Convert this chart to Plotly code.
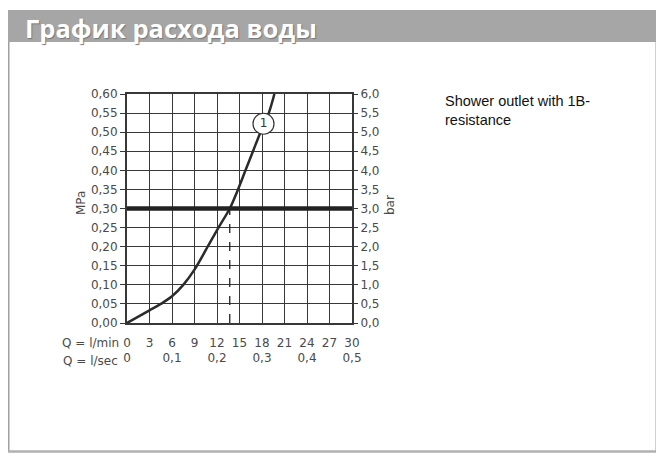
import plotly.graph_objects as go

# ---- data ----
flow_lpm = [0, 3, 4.5, 6, 7.5, 9, 10.7, 12.2, 13.7, 14.8, 15.8, 16.8, 17.8, 18.9, 19.65]
pressure_mpa = [0, 0.033, 0.050, 0.070, 0.100, 0.140, 0.198, 0.250, 0.300, 0.350, 0.400, 0.450, 0.500, 0.550, 0.600]

x_lpm_ticks = [0, 3, 6, 9, 12, 15, 18, 21, 24, 27, 30]
x_lpm_text = ["0", "3", "6", "9", "12", "15", "18", "21", "24", "27", "30"]
x_lps_ticks = [0, 0.1, 0.2, 0.3, 0.4, 0.5]
x_lps_text = ["0", "0,1", "0,2", "0,3", "0,4", "0,5"]
y_mpa_ticks = [0, 0.05, 0.10, 0.15, 0.20, 0.25, 0.30, 0.35, 0.40, 0.45, 0.50, 0.55, 0.60]
y_mpa_text = ["0,00", "0,05", "0,10", "0,15", "0,20", "0,25", "0,30", "0,35", "0,40", "0,45", "0,50", "0,55", "0,60"]
y_bar_ticks = [0, 0.5, 1, 1.5, 2, 2.5, 3, 3.5, 4, 4.5, 5, 5.5, 6]
y_bar_text = ["0,0", "0,5", "1,0", "1,5", "2,0", "2,5", "3,0", "3,5", "4,0", "4,5", "5,0", "5,5", "6,0"]

threshold_bar = 3.0
threshold_lps = [0, 0.5]
operating_flow = 13.7
operating_pressure = 0.30
curve_label = "1"
curve_label_pos = (18.2, 0.522)

title_text = "График расхода воды"
note_text = "Shower outlet with 1B-<br>resistance"

# ---- layout helpers: page pixel -> figure paper (page body has an 8px margin) ----
OFF = 8
W, H = 664 - OFF, 462 - OFF

def px(x):
    return (x - OFF) / W

def py(y):
    return 1 - (y - OFF) / H

L, R, T, B = 127, 352, 94, 323
GRID = "#383838"
TXT = "#4a4a4a"
TF = dict(family="DejaVu Sans", size=12, color=TXT)

fig = go.Figure()

fig.add_trace(go.Scatter(
    x=flow_lpm, y=pressure_mpa, mode="lines",
    line=dict(color="#2b2b2b", width=2.5, shape="spline", smoothing=1.0),
    hoverinfo="skip", showlegend=False))

fig.add_trace(go.Scatter(
    x=threshold_lps, y=[threshold_bar, threshold_bar], xaxis="x2", yaxis="y2",
    mode="lines", line=dict(color="#222222", width=4.5),
    hoverinfo="skip", showlegend=False))

fig.add_trace(go.Scatter(
    x=[operating_flow, operating_flow], y=[0, operating_pressure], mode="lines",
    line=dict(color="#222222", width=1.3, dash="dash"),
    hoverinfo="skip", showlegend=False))

fig.add_trace(go.Scatter(
    x=[curve_label_pos[0]], y=[curve_label_pos[1]], mode="markers+text",
    text=[curve_label], textposition="middle center",
    textfont=dict(family="DejaVu Sans", size=12, color="#333333"),
    marker=dict(size=21, color="white", line=dict(color="#333333", width=1.2)),
    cliponaxis=False, hoverinfo="skip", showlegend=False))

xdom = [px(L), px(R)]
ydom = [py(B), py(T)]

fig.update_layout(
    width=W, height=H,
    margin=dict(l=0, r=0, t=0, b=0, pad=0, autoexpand=False),
    paper_bgcolor="white", plot_bgcolor="white",
    xaxis=dict(domain=xdom, range=[0, 30], tickvals=x_lpm_ticks, ticktext=x_lpm_text,
               showgrid=True, gridcolor=GRID, gridwidth=1.3, zeroline=False,
               showline=True, linecolor=GRID, linewidth=2, mirror=True, automargin=False,
               ticks="", tickfont=TF, ticklabelstandoff=8, anchor="y"),
    xaxis2=dict(domain=xdom, range=[0, 0.5], overlaying="x", side="bottom", anchor="y",
                tickvals=x_lps_ticks, ticktext=x_lps_text, showgrid=False, zeroline=False,
                showline=False, ticks="", tickfont=TF, ticklabelstandoff=26, automargin=False),
    yaxis=dict(domain=ydom, range=[0, 0.6], tickvals=y_mpa_ticks, ticktext=y_mpa_text,
               showgrid=True, gridcolor=GRID, gridwidth=1.3, zeroline=False,
               showline=True, linecolor=GRID, linewidth=2, mirror=True, automargin=False,
               ticks="outside", ticklen=5, tickcolor=GRID, tickwidth=1.2, tickfont=TF,
               anchor="x"),
    yaxis2=dict(domain=ydom, range=[0, 6], overlaying="y", side="right", anchor="x",
                tickvals=y_bar_ticks, ticktext=y_bar_text, showgrid=False, zeroline=False,
                automargin=False,
                ticks="outside", ticklen=5, tickcolor=GRID, tickwidth=1.2, tickfont=TF),
    shapes=[
        dict(type="rect", xref="paper", yref="paper", x0=px(8), x1=px(658), y0=py(42), y1=py(10),
             fillcolor="#a6a6a6", line=dict(width=0), layer="below"),
        dict(type="line", xref="paper", yref="paper", x0=px(8.5), x1=px(8.5), y0=py(42), y1=py(452),
             line=dict(color="#a0a0a0", width=2)),
        dict(type="line", xref="paper", yref="paper", x0=px(656.5), x1=px(656.5), y0=py(42), y1=py(452),
             line=dict(color="#a0a0a0", width=2)),
        dict(type="line", xref="paper", yref="paper", x0=px(8), x1=px(658), y0=py(451.5), y1=py(451.5),
             line=dict(color="#b0b0b0", width=2.5)),
    ],
    annotations=[
        dict(text=title_text, xref="paper", yref="paper", x=px(23), y=py(28),
             xanchor="left", yanchor="middle", showarrow=False,
             font=dict(family="Open Sans", size=25.5, color="white", weight="bold",
                       shadow="1px 1px 1px #777")),
        dict(text=note_text, xref="paper", yref="paper", x=px(443), y=py(91),
             xanchor="left", yanchor="top", showarrow=False, align="left",
             font=dict(family="Liberation Sans", size=14.5, color="#111111")),
        dict(text="MPa", xref="paper", yref="paper", x=px(81), y=py(203), textangle=-90,
             xanchor="center", yanchor="middle", showarrow=False, font=TF),
        dict(text="bar", xref="paper", yref="paper", x=px(390), y=py(205), textangle=-90,
             xanchor="center", yanchor="middle", showarrow=False, font=TF),
        dict(text="Q = l/min", xref="paper", yref="paper", x=px(121), y=py(343),
             xanchor="right", yanchor="middle", showarrow=False, font=TF),
        dict(text="Q = l/sec", xref="paper", yref="paper", x=px(120), y=py(361),
             xanchor="right", yanchor="middle", showarrow=False, font=TF),
    ],
)

fig.write_html("out.html")
